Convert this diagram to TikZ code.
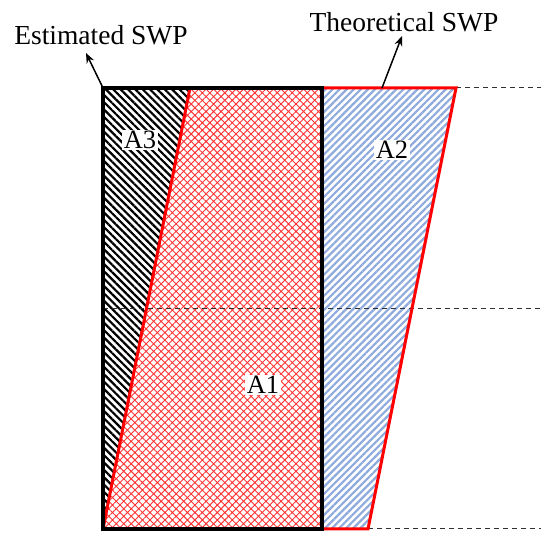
\documentclass[tikz,border=0pt]{standalone}
\usepackage{fontspec}
\setmainfont{Liberation Serif}
\usepackage{tikz}
\usetikzlibrary{arrows.meta,patterns.meta}
\definecolor{swpred}{HTML}{FF0000}
\definecolor{swpblue}{HTML}{8FAADC}
\definecolor{swpgrey}{HTML}{303030}

\begin{document}
\begin{tikzpicture}[x=1pt,y=1pt,
  area/.style={fill=white,inner sep=1.5pt,font=\fontsize{26.5}{28}\selectfont},
  tag/.style={inner sep=0pt,font=\fontsize{27.5}{30}\selectfont},
  guide/.style={swpgrey,line width=1pt,dash pattern=on 5pt off 4pt},
  pointer/.style={-{Stealth[length=10pt,width=8pt]},line width=1.5pt}]
\useasboundingbox (0,0) rectangle (541,535);
% corners: estimated (black box) and theoretical (red slab)
\coordinate (eTL) at (103,447);
\coordinate (eTR) at (322,447);
\coordinate (eBR) at (322,6);
\coordinate (eBL) at (103,6);
\coordinate (tTL) at (190,447);
\coordinate (tTR) at (456,447);
\coordinate (tBR) at (368,6);
\coordinate (eMid) at (103,226);
\coordinate (rTop) at (541,447);
\coordinate (rMid) at (541,226);
\coordinate (rBot) at (541,6);
% hatched areas
\fill[pattern={Lines[angle=-45,distance=5.2pt,line width=2.2pt]},pattern color=black]
   (eTL) -- (tTL) -- (eBL) -- cycle;
\fill[pattern={Hatch[angle=45,distance=5.3pt,line width=0.9pt]},pattern color=swpred!80]
   (tTL) -- (eTR) -- (eBR) -- (eBL) -- cycle;
\fill[pattern={Lines[angle=45,distance=5pt,line width=2.2pt]},pattern color=swpblue]
   (eTR) -- (tTR) -- (tBR) -- (eBR) -- cycle;
% depth guides
\draw[guide] (tTR) -- (rTop);
\draw[guide] (eMid) -- (rMid);
\draw[guide] (tBR) -- (rBot);
% outlines
\draw[swpred,line width=3pt] (tTL) -- (tTR) -- (tBR) -- (eBL) -- cycle;
\draw[line width=4.5pt] (eTL) rectangle (eBR);
% area labels
\node[area] (a3) at (140,395) {A3};
\node[area] (a2) at (392,385) {A2};
\node[area] (a1) at (263,150) {A1};
% captions and pointers
\node[tag] (est) at (101,500) {Estimated SWP};
\node[tag] (theo) at (404,513) {Theoretical SWP};
\coordinate (estTip) at (86,482);
\coordinate (theoBase) at (382,447);
\coordinate (theoTip) at (402,499);
\draw[pointer] (eTL) -- (estTip);
\draw[pointer] (theoBase) -- (theoTip);
\end{tikzpicture}
\end{document}
